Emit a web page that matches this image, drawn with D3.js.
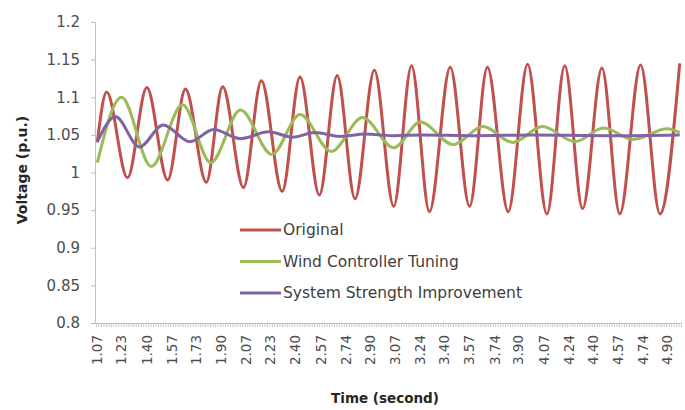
<!DOCTYPE html>
<html>
<head>
<meta charset="utf-8">
<script src="https://cdnjs.cloudflare.com/ajax/libs/d3/7.8.5/d3.min.js"></script>
<style>
  body { margin: 0; background: #fff; }
  text { font-family: "DejaVu Sans", sans-serif; }
</style>
</head>
<body>
<div id="chart"></div>
<script>
// values: time (s) and voltage (p.u.) at each peak / trough
const originalTime = [1.067, 1.13, 1.27, 1.40, 1.54, 1.66, 1.80, 1.91, 2.05, 2.17, 2.31, 2.43, 2.56, 2.68, 2.80, 2.93,
                      3.06, 3.18, 3.30, 3.44, 3.57, 3.69, 3.83, 3.96, 4.09, 4.21, 4.33, 4.46, 4.58, 4.72, 4.85, 4.983];
const originalVolt = [1.040, 1.107, 0.993, 1.113, 0.990, 1.111, 0.987, 1.114, 0.980, 1.122, 0.975, 1.127, 0.970, 1.129, 0.965, 1.136,
                      0.955, 1.142, 0.948, 1.140, 0.955, 1.140, 0.948, 1.144, 0.945, 1.142, 0.952, 1.139, 0.945, 1.143, 0.945, 1.145];

const windTime = [1.067, 1.23, 1.43, 1.64, 1.83, 2.03, 2.24, 2.43, 2.64, 2.85, 3.06, 3.24, 3.46, 3.66, 3.86, 4.06, 4.28, 4.47, 4.67, 4.90, 4.983];
const windVolt = [1.013, 1.100, 1.008, 1.090, 1.013, 1.083, 1.024, 1.077, 1.028, 1.073, 1.033, 1.067, 1.037, 1.061, 1.040, 1.061, 1.041, 1.059, 1.044, 1.058, 1.053];

const strengthTime = [1.067, 1.19, 1.35, 1.51, 1.69, 1.85, 2.03, 2.22, 2.38, 2.53, 2.70, 2.87, 3.05, 3.24, 3.60, 4.00, 4.50, 4.983];
const strengthVolt = [1.041, 1.074, 1.034, 1.063, 1.041, 1.057, 1.045, 1.054, 1.047, 1.053, 1.048, 1.051, 1.049, 1.050, 1.049, 1.050, 1.049, 1.050];

const seriesNames = ["Original", "Wind Controller Tuning", "System Strength Improvement"];
const seriesColors = ["#c0504d", "#9bbb59", "#8064a2"];

const xLabels = ["1.07", "1.23", "1.40", "1.57", "1.73", "1.90", "2.07", "2.23", "2.40", "2.57", "2.74", "2.90",
                 "3.07", "3.24", "3.40", "3.57", "3.74", "3.90", "4.07", "4.24", "4.40", "4.57", "4.74", "4.90"];
const yTicks = [0.8, 0.85, 0.9, 0.95, 1, 1.05, 1.1, 1.15, 1.2];

// category axis: one category every 1/60 s
const firstEdge = 1.0583, nCats = 236, catStep = 1 / 60;

let svg = d3.select("#chart").append("svg")
    .attr("width", 685)
    .attr("height", 410);

let x = d3.scaleLinear().domain([firstEdge, firstEdge + nCats * catStep]).range([96, 681]);
let y = d3.scaleLinear().domain([0.8, 1.2]).range([323, 22]);

// y axis
let yAxis = svg.append("g")
    .attr("transform", "translate(96,0)")
    .call(d3.axisLeft(y).tickValues(yTicks).tickSize(5).tickPadding(11).tickFormat(d3.format("~g")));
yAxis.select(".domain").attr("stroke", "#bfbfbf").attr("d", "M-0.5," + y(0.8) + "V" + y(1.2));
yAxis.selectAll(".tick line").attr("stroke", "#bfbfbf");
yAxis.selectAll(".tick text")
    .style("font-family", "DejaVu Sans")
    .style("font-size", "15px")
    .attr("fill", "#4d4d4d");

// x axis: a small tick at every category edge
let edges = d3.range(nCats + 1).map(j => firstEdge + j * catStep);
let xAxis = svg.append("g")
    .attr("transform", "translate(0,323)")
    .call(d3.axisBottom(x).tickValues(edges).tickSize(4).tickFormat(""));
xAxis.select(".domain").attr("stroke", "#bfbfbf");
xAxis.selectAll(".tick line").attr("stroke", "#c8c8c8");

svg.append("g").selectAll("text")
    .data(xLabels)
    .enter().append("text")
    .attr("transform", d => "translate(" + x(+d) + ",335) rotate(-90)")
    .attr("dy", "0.35em")
    .style("text-anchor", "end")
    .style("font-size", "13.5px")
    .attr("fill", "#4d4d4d")
    .text(d => d);

// axis titles
svg.append("text")
    .attr("x", 385)
    .attr("y", 403)
    .style("text-anchor", "middle")
    .style("font-size", "13.5px")
    .style("font-weight", "bold")
    .attr("fill", "#262626")
    .text("Time (second)");

svg.append("text")
    .attr("transform", "translate(27,170) rotate(-90)")
    .style("text-anchor", "middle")
    .style("font-size", "14px")
    .style("font-weight", "bold")
    .attr("fill", "#262626")
    .text("Voltage (p.u.)");

// lines
let series = [
    { time: originalTime, volt: originalVolt },
    { time: windTime, volt: windVolt },
    { time: strengthTime, volt: strengthVolt }
];

let line = d3.line()
    .x(d => x(d[0]))
    .y(d => y(d[1]))
    .curve(d3.curveMonotoneX);

series.forEach(function(s, i) {
    svg.append("path")
        .datum(s.time.map((t, k) => [t, s.volt[k]]))
        .attr("fill", "none")
        .attr("stroke", seriesColors[i])
        .attr("stroke-width", 3)
        .attr("stroke-linejoin", "round")
        .attr("d", line);
});

// legend
let legend = svg.append("g").selectAll("g")
    .data(seriesNames)
    .enter().append("g")
    .attr("transform", (d, i) => "translate(240," + (230 + i * 31.5) + ")");

legend.append("line")
    .attr("x1", 0).attr("x2", 41)
    .attr("stroke", (d, i) => seriesColors[i])
    .attr("stroke-width", 3);

legend.append("text")
    .attr("x", 43)
    .attr("dy", "0.35em")
    .style("font-size", "15.5px")
    .attr("fill", "#404040")
    .text(d => d);
</script>
</body>
</html>
